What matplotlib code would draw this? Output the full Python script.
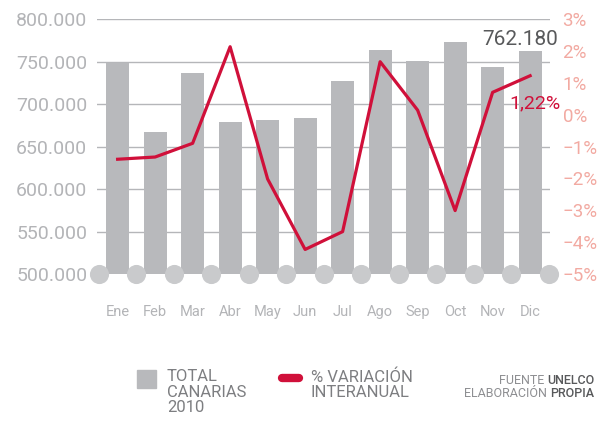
import matplotlib
matplotlib.use("Agg")
import matplotlib.pyplot as plt
from matplotlib.patches import Rectangle
from matplotlib.lines import Line2D

plt.rcParams['font.family'] = ['Roboto', 'DejaVu Sans']

meses = ['Ene', 'Feb', 'Mar', 'Abr', 'May', 'Jun', 'Jul', 'Ago', 'Sep', 'Oct', 'Nov', 'Dic']
total = [748600, 667400, 736500, 678800, 681000, 683500, 727000, 763500, 750200, 773000, 743000, 762180]
variacion = [-1.40, -1.33, -0.90, 2.13, -2.02, -4.23, -3.67, 1.66, 0.14, -3.01, 0.70, 1.22]
yticks = [500000, 550000, 600000, 650000, 700000, 750000, 800000]
pticks = [-5, -4, -3, -2, -1, 0, 1, 2, 3]

gris = '#b8b9bc'
rojo = '#d0103a'
salmon = '#f2aaa2'

fig = plt.figure(figsize=(6.03, 4.23), dpi=100)
ax = fig.add_axes([97 / 603, 1 - 274 / 423, 453 / 603, 255 / 423])
x = list(range(len(meses)))

ax.bar(x, total, width=0.62, color=gris, zorder=2)
ax.set_ylim(500000, 800000)
ax.set_xlim(-0.55, 11.53)
ax.set_yticks(yticks)
ax.set_yticklabels([f'{v:,}'.replace(',', '.') for v in yticks], color='#b3b4b7', fontsize=14)
ax.yaxis.grid(True, color='#b5b6b9', linewidth=1.0, zorder=0)
ax.set_axisbelow(True)
ax.set_xticks(x)
ax.set_xticklabels(meses, color='#b3b4b7', fontsize=10.5)
ax.tick_params(axis='x', length=0, pad=22)
ax.tick_params(axis='y', length=0, pad=7)
for s in ax.spines.values():
    s.set_visible(False)

# circulos en la base
circ = [i - 0.5 for i in range(len(meses) + 1)]
ax.scatter(circ, [500000] * len(circ), s=190, color='#c9cacc', zorder=4, clip_on=False, linewidths=0)

ax.text(11.74, 769000, '762.180', ha='right', va='baseline', fontsize=15, color='#58595b', clip_on=False)

ax2 = ax.twinx()
ax2.plot(x, variacion, color=rojo, linewidth=2.3, zorder=5)
ax2.set_ylim(-5, 3)
ax2.set_yticks(pticks)
ax2.set_yticklabels([f'{v}%'.replace('-', '\u2212') for v in pticks], color=salmon, fontsize=13.5)
ax2.tick_params(axis='y', length=0, pad=9)
for s in ax2.spines.values():
    s.set_visible(False)
ax2.text(11.82, 0.2, '1,22%', ha='right', va='baseline', fontsize=14, color=rojo, clip_on=False)

# leyenda
fig.patches.append(Rectangle((137 / 603, 1 - 388 / 423), 19 / 603, 18 / 423,
                             transform=fig.transFigure, color=gris))
fig.text(167 / 603, 1 - 369 / 423, 'TOTAL\nCANARIAS\n2010', ha='left', va='top',
         fontsize=12, color='#7d7e81', linespacing=1.05)
fig.lines.append(Line2D([282 / 603, 299 / 603], [1 - 378 / 423] * 2, transform=fig.transFigure,
                        color=rojo, linewidth=6, solid_capstyle='round'))
fig.text(311 / 603, 1 - 369 / 423, '% VARIACIÓN\nINTERANUAL', ha='left', va='top',
         fontsize=12, color='#7d7e81', linespacing=1.05)

fig.canvas.draw()
r = fig.canvas.get_renderer()
t1 = fig.text(594 / 603, 1 - 374 / 423, 'UNELCO', ha='right', va='top', fontsize=9,
              color='#58595b', fontweight='medium')
t2 = fig.text(594 / 603, 1 - 387 / 423, 'PROPIA', ha='right', va='top', fontsize=9,
              color='#58595b', fontweight='medium')
w1 = t1.get_window_extent(r)
w2 = t2.get_window_extent(r)
fig.text(w1.x0 / 603 - 3 / 603, 1 - 374 / 423, 'FUENTE', ha='right', va='top', fontsize=9, color='#8e8f92')
fig.text(w2.x0 / 603 - 3 / 603, 1 - 387 / 423, 'ELABORACIÓN', ha='right', va='top', fontsize=9, color='#8e8f92')

fig.savefig('out.png', dpi=100)
